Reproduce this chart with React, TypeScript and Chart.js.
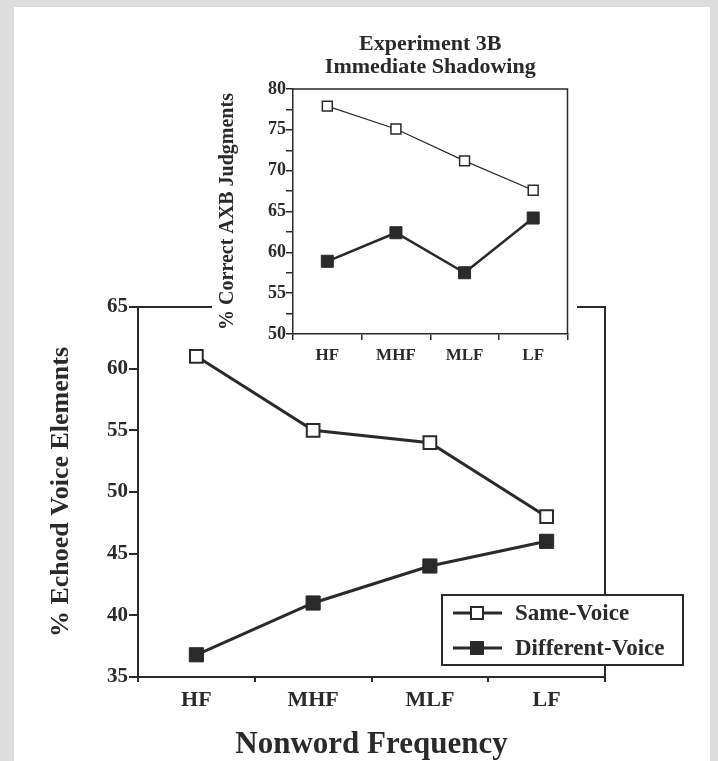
import React, { useEffect, useRef } from 'react';
import { Chart, registerables } from 'chart.js';

Chart.register(...registerables);

// ---------- data ----------
const categories = ['HF', 'MHF', 'MLF', 'LF'];
const seriesLabels = ['Same-Voice', 'Different-Voice'];

const mainSame = [61, 55, 54, 48];
const mainDiff = [36.8, 41, 44, 46];
const mainYMin = 35;
const mainYMax = 65;
const mainYStep = 5;

const insetSame = [77.9, 75.1, 71.2, 67.6];
const insetDiff = [58.9, 62.4, 57.5, 64.2];
const insetYMin = 50;
const insetYMax = 80;
const insetYStep = 2.5;
const insetYLabelEvery = 5;

const mainXTitle = 'Nonword Frequency';
const mainYTitle = '% Echoed Voice Elements';
const insetYTitle = '% Correct AXB Judgments';
const insetTitle = ['Experiment 3B', 'Immediate Shadowing'];

// ---------- style ----------
const FONT = "'Liberation Serif', 'Times New Roman', Times, serif";
const INK = '#2a2a2a';

Chart.defaults.font.family = FONT;
Chart.defaults.color = INK;

function makeFramePlugin(width: number, ext: number) {
  return {
    id: 'frame',
    beforeDatasetsDraw(chart: any) {
      const { ctx, chartArea: a } = chart;
      ctx.save();
      ctx.strokeStyle = INK;
      ctx.lineWidth = width;
      ctx.beginPath();
      ctx.moveTo(a.left, a.top);
      ctx.lineTo(a.right, a.top);
      ctx.lineTo(a.right, a.bottom + ext);
      ctx.stroke();
      ctx.restore();
    },
  };
}

const boxLegendPlugin = {
  id: 'boxLegend',
  afterDraw(chart: any) {
    const { ctx, chartArea: a } = chart;
    const x0 = a.right - 163;
    const y0 = a.bottom - 82;
    const w = 241;
    const h = 70;
    ctx.save();
    ctx.fillStyle = '#ffffff';
    ctx.fillRect(x0, y0, w, h);
    ctx.strokeStyle = INK;
    ctx.lineWidth = 2;
    ctx.strokeRect(x0, y0, w, h);
    chart.data.datasets.forEach((ds: any, i: number) => {
      const cy = y0 + 18 + i * 35;
      ctx.strokeStyle = INK;
      ctx.lineWidth = 3;
      ctx.beginPath();
      ctx.moveTo(x0 + 11, cy);
      ctx.lineTo(x0 + 60, cy);
      ctx.stroke();
      const s = 12;
      ctx.fillStyle = ds.pointBackgroundColor;
      ctx.fillRect(x0 + 35 - s / 2, cy - s / 2, s, s);
      ctx.lineWidth = 2;
      ctx.strokeRect(x0 + 35 - s / 2, cy - s / 2, s, s);
      ctx.fillStyle = INK;
      ctx.font = `bold 23px ${FONT}`;
      ctx.textBaseline = 'middle';
      ctx.textAlign = 'left';
      ctx.fillText(ds.label, x0 + 73, cy + 1);
    });
    ctx.restore();
  },
};

export default function App() {
  const mainRef = useRef<HTMLCanvasElement | null>(null);
  const insetRef = useRef<HTMLCanvasElement | null>(null);

  useEffect(() => {
    if (!mainRef.current || !insetRef.current) return;

    const mainChart = new Chart(mainRef.current, {
      type: 'line',
      data: {
        labels: categories,
        datasets: [
          {
            label: seriesLabels[0],
            data: mainSame,
            borderColor: INK,
            borderWidth: 3,
            pointStyle: 'rect',
            pointRadius: 9,
            pointBackgroundColor: '#ffffff',
            pointBorderColor: INK,
            pointBorderWidth: 2,
          },
          {
            label: seriesLabels[1],
            data: mainDiff,
            borderColor: INK,
            borderWidth: 3,
            pointStyle: 'rect',
            pointRadius: 10,
            pointBackgroundColor: INK,
            pointBorderColor: INK,
            pointBorderWidth: 1,
          },
        ],
      },
      options: {
        responsive: false,
        animation: false,
        devicePixelRatio: 1,
        layout: { padding: { left: 20, top: 307, right: 113, bottom: 0 } },
        plugins: { legend: { display: false }, tooltip: { enabled: false } },
        scales: {
          x: {
            type: 'category',
            offset: true,
            grid: {
              offset: true,
              drawOnChartArea: false,
              drawTicks: true,
              tickLength: 5,
              color: INK,
              lineWidth: 2,
            },
            border: { display: true, color: INK, width: 2 },
            ticks: { color: INK, font: { size: 22, weight: 'bold' }, padding: 5 },
            title: {
              display: true,
              text: mainXTitle,
              color: INK,
              font: { size: 31, weight: 'bold', lineHeight: 1 },
              padding: { top: 0, bottom: 0.5 },
            },
            afterFit: (s: any) => {
              s.height = 84;
            },
          },
          y: {
            min: mainYMin,
            max: mainYMax,
            grid: {
              drawOnChartArea: false,
              drawTicks: true,
              tickLength: 9,
              color: INK,
              lineWidth: 2,
            },
            border: { display: true, color: INK, width: 2 },
            ticks: {
              stepSize: mainYStep,
              color: INK,
              font: { size: 21, weight: 'bold' },
              padding: 1,
              autoSkip: false,
            },
            title: {
              display: true,
              text: mainYTitle,
              color: INK,
              font: { size: 26, weight: 'bold', lineHeight: 1 },
              padding: { top: 28, bottom: 0 },
            },
            afterFit: (s: any) => {
              s.width = 118;
            },
          },
        },
      },
      plugins: [makeFramePlugin(2, 4), boxLegendPlugin],
    } as any);

    const insetChart = new Chart(insetRef.current, {
      type: 'line',
      data: {
        labels: categories,
        datasets: [
          {
            label: seriesLabels[0],
            data: insetSame,
            borderColor: INK,
            borderWidth: 1.2,
            pointStyle: 'rect',
            pointRadius: 7,
            pointBackgroundColor: '#ffffff',
            pointBorderColor: INK,
            pointBorderWidth: 1.5,
          },
          {
            label: seriesLabels[1],
            data: insetDiff,
            borderColor: INK,
            borderWidth: 2.5,
            pointStyle: 'rect',
            pointRadius: 8.5,
            pointBackgroundColor: INK,
            pointBorderColor: INK,
            pointBorderWidth: 1,
          },
        ],
      },
      options: {
        responsive: false,
        animation: false,
        devicePixelRatio: 1,
        layout: { padding: { left: 0, top: 0, right: 2, bottom: 0 } },
        plugins: {
          legend: { display: false },
          tooltip: { enabled: false },
          title: {
            display: true,
            text: insetTitle,
            fullSize: false,
            color: INK,
            font: { size: 22, weight: 'bold', lineHeight: '23px' },
            padding: { top: 12.5, bottom: 10.5 },
          },
        },
        scales: {
          x: {
            type: 'category',
            offset: true,
            grid: {
              offset: true,
              drawOnChartArea: false,
              drawTicks: true,
              tickLength: 6,
              color: INK,
              lineWidth: 1.5,
            },
            border: { display: true, color: INK, width: 1.5 },
            ticks: { color: INK, font: { size: 17, weight: 'bold' }, padding: 5 },
            afterFit: (s: any) => {
              s.height = 28;
            },
          },
          y: {
            min: insetYMin,
            max: insetYMax,
            grid: {
              drawOnChartArea: false,
              drawTicks: true,
              tickLength: 7,
              color: INK,
              lineWidth: 1.5,
            },
            border: { display: true, color: INK, width: 1.5 },
            ticks: {
              stepSize: insetYStep,
              autoSkip: false,
              color: INK,
              font: { size: 18, weight: 'bold' },
              padding: 0,
              callback: (v: any) => (Number(v) % insetYLabelEvery === 0 ? String(v) : ''),
            },
            title: {
              display: true,
              text: insetYTitle,
              color: INK,
              font: { size: 20, weight: 'bold', lineHeight: 1 },
              padding: { top: 6, bottom: 0 },
            },
            afterFit: (s: any) => {
              s.width = 81;
            },
          },
        },
      },
      plugins: [makeFramePlugin(1.5, 0)],
    } as any);

    return () => {
      mainChart.destroy();
      insetChart.destroy();
    };
  }, []);

  return (
    <div
      style={{
        position: 'absolute',
        left: 0,
        top: 0,
        width: 718,
        height: 761,
        background: '#dddddd',
        overflow: 'hidden',
      }}
    >
      <div
        style={{
          position: 'absolute',
          left: 14,
          top: 7,
          width: 696,
          height: 754,
          background: '#ffffff',
        }}
      />
      <canvas
        ref={mainRef}
        width={718}
        height={761}
        style={{ position: 'absolute', left: 0, top: 0 }}
      />
      <canvas
        ref={insetRef}
        width={365}
        height={342}
        style={{ position: 'absolute', left: 212, top: 20, background: '#ffffff' }}
      />
    </div>
  );
}
